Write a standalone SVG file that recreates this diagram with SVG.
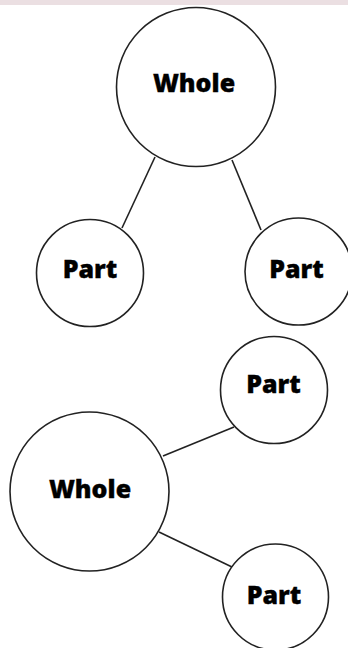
<svg xmlns="http://www.w3.org/2000/svg" width="348" height="648" viewBox="0 0 348 648">
<style>
.n{fill:#ffffff;stroke:#222222;stroke-width:1.6}
.e{stroke:#222222;stroke-width:1.6;fill:none}
.t{font-family:"Open Sans","DejaVu Sans",sans-serif;font-weight:800;font-size:25px;fill:#000000;stroke:#000000;stroke-width:0.35;text-anchor:middle}
</style>
<rect x="0" y="0" width="348" height="648" fill="#ffffff"/>
<rect x="0" y="0" width="348" height="5" fill="#ebdfe2"/>
<g id="connectors">
<line class="e" x1="155" y1="157" x2="122" y2="228"/>
<line class="e" x1="232" y1="160" x2="261" y2="230"/>
<line class="e" x1="163" y1="456" x2="234" y2="427"/>
<line class="e" x1="159" y1="532" x2="232" y2="567"/>
</g>
<g id="whole1"><circle class="n" cx="196" cy="87" r="79.5"/><text class="t" x="194" y="92">Whole</text></g>
<g id="part1"><circle class="n" cx="90" cy="273" r="53.5"/><text class="t" x="90" y="278">Part</text></g>
<g id="part2"><circle class="n" cx="298.5" cy="271.5" r="53.5"/><text class="t" x="296.5" y="278">Part</text></g>
<g id="whole2"><circle class="n" cx="89.5" cy="491.5" r="79.5"/><text class="t" x="90" y="498">Whole</text></g>
<g id="part3"><circle class="n" cx="274" cy="390" r="53.5"/><text class="t" x="273.5" y="393">Part</text></g>
<g id="part4"><circle class="n" cx="275.5" cy="597" r="53"/><text class="t" x="274" y="604">Part</text></g>
</svg>
